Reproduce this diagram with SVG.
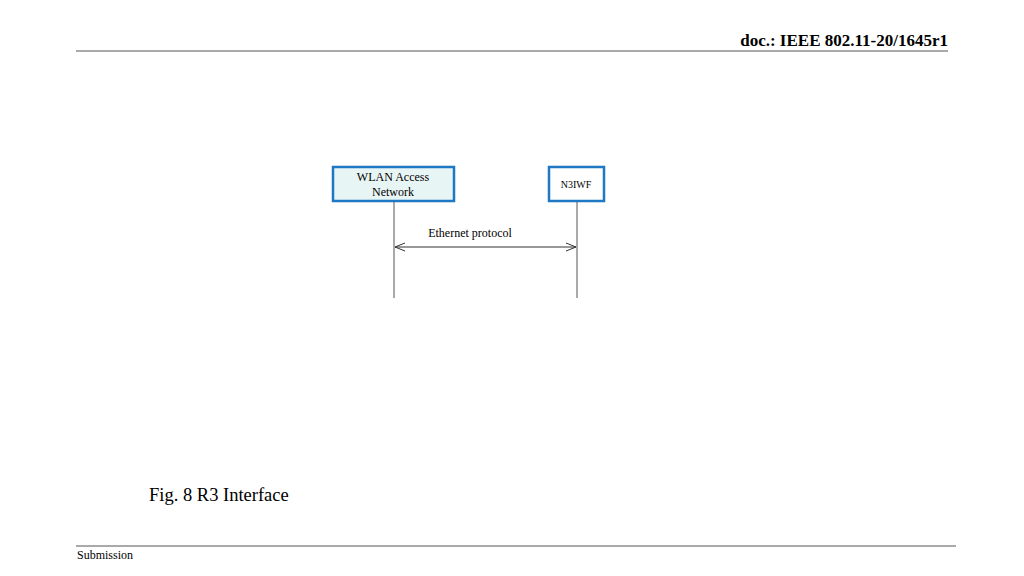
<svg xmlns="http://www.w3.org/2000/svg" width="1024" height="576" viewBox="0 0 1024 576">
<style>
text{font-family:"Liberation Serif",serif;fill:#000}
.box{stroke:#1f78c4;stroke-width:2.5}
.ln{stroke:#555;stroke-width:1;fill:none}
</style>
<defs><marker id="ah" markerWidth="12" markerHeight="10" refX="11" refY="5" orient="auto-start-reverse" markerUnits="userSpaceOnUse"><path d="M1,1 L11,5 L1,9" fill="none" stroke="#333" stroke-width="1"/></marker></defs>
<rect width="1024" height="576" fill="#fff"/>
<text x="948" y="46" text-anchor="end" font-size="17" font-weight="bold">doc.: IEEE 802.11-20/1645r1</text>
<line x1="76" y1="51" x2="948" y2="51" stroke="#555" stroke-width="1"/>
<line x1="76" y1="546" x2="956" y2="546" stroke="#555" stroke-width="1"/>
<text x="77" y="559" font-size="12">Submission</text>
<text x="149" y="501" font-size="18.5">Fig. 8 R3 Interface</text>
<g id="wlan"><rect class="box" x="333" y="167" width="121" height="34" fill="#e8f5f5"/><text x="393" y="181" text-anchor="middle" font-size="12">WLAN Access</text><text x="393" y="196" text-anchor="middle" font-size="12">Network</text></g>
<g id="n3iwf"><rect class="box" x="549" y="167" width="55" height="34" fill="#fff"/><text x="576" y="188" text-anchor="middle" font-size="10">N3IWF</text></g>
<g id="connectors">
<line class="ln" x1="394" y1="202" x2="394" y2="298"/>
<line class="ln" x1="577" y1="202" x2="577" y2="298"/>
<line x1="395" y1="247" x2="576" y2="247" stroke="#333" stroke-width="1" marker-start="url(#ah)" marker-end="url(#ah)"/>
<text x="470" y="237" text-anchor="middle" font-size="12">Ethernet protocol</text>
</g>
</svg>
